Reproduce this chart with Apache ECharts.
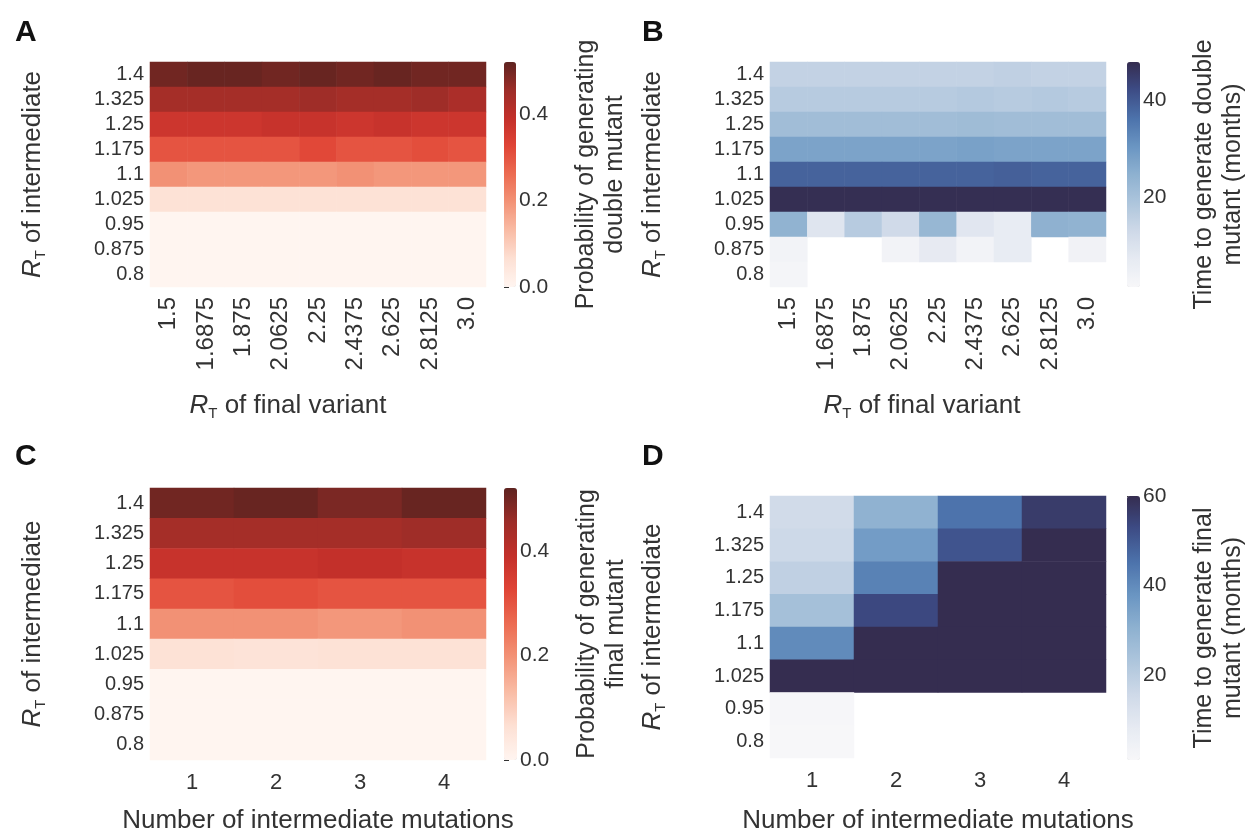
<!DOCTYPE html>
<html>
<head>
<meta charset="utf-8">
<script src="https://cdn.jsdelivr.net/npm/echarts@6/dist/echarts.min.js"></script>
<style>
html, body { margin: 0; background: #fff; }
#chart { width: 1257px; height: 835px; }
</style>
</head>
<body>
<div id="chart"></div>
<script>
// axis categories
var rtFinal = ['1.5', '1.6875', '1.875', '2.0625', '2.25', '2.4375', '2.625', '2.8125', '3.0'];
var rtInter = ['1.4', '1.325', '1.25', '1.175', '1.1', '1.025', '0.95', '0.875', '0.8'];
var rtInterD = ['1.4', '1.325', '1.25', '1.175', '1.1', '1.025', '0.95', '0.8'];
var nMutations = ['1', '2', '3', '4'];

// A: probability of generating double mutant (rows top -> bottom)
var probDouble = [
    [0.50, 0.51, 0.51, 0.50, 0.51, 0.50, 0.51, 0.50, 0.50],
    [0.44, 0.44, 0.44, 0.44, 0.45, 0.44, 0.44, 0.45, 0.43],
    [0.37, 0.37, 0.37, 0.38, 0.38, 0.37, 0.38, 0.37, 0.37],
    [0.30, 0.30, 0.30, 0.30, 0.32, 0.30, 0.30, 0.31, 0.30],
    [0.20, 0.19, 0.19, 0.19, 0.19, 0.20, 0.19, 0.19, 0.19],
    [0.06, 0.06, 0.06, 0.06, 0.06, 0.06, 0.06, 0.06, 0.06],
    [0, 0, 0, 0, 0, 0, 0, 0, 0],
    [0, 0, 0, 0, 0, 0, 0, 0, 0],
    [0, 0, 0, 0, 0, 0, 0, 0, 0]
];
// B: time to generate double mutant (months), null = no value
var timeDouble = [
    [15, 15, 15, 15, 15, 15, 15.5, 15, 15],
    [17, 17, 17, 17, 17, 17.5, 17, 17.5, 17],
    [21, 21, 21, 21, 21, 21.5, 21, 21, 21],
    [27.5, 27.5, 27.5, 27.5, 27.5, 28, 27.5, 27.5, 27.5],
    [38.5, 38.5, 38.5, 38.5, 38.5, 38.5, 39, 38.5, 38.5],
    [47.5, 47.5, 47.5, 47.5, 47.5, 47.5, 47.5, 47.5, 47.5],
    [24, 9, 17, 12.5, 23, 8.5, 6.5, 24.5, 24],
    [3, null, null, 3, 7, 3, 6.5, null, 3.5],
    [2.5, null, null, null, null, null, null, null, null]
];
// C: probability of generating final mutant
var probFinal = [
    [0.50, 0.51, 0.49, 0.51],
    [0.44, 0.44, 0.44, 0.45],
    [0.38, 0.38, 0.39, 0.38],
    [0.30, 0.31, 0.30, 0.30],
    [0.20, 0.20, 0.19, 0.20],
    [0.06, 0.055, 0.06, 0.06],
    [0, 0, 0, 0],
    [0, 0, 0, 0],
    [0, 0, 0, 0]
];
// D: time to generate final mutant (months)
var timeFinal = [
    [15, 30, 45, 56.5],
    [16, 36, 51, 60],
    [19, 42, 60, 60],
    [25, 53.5, 60, 60],
    [40, 60, 60, 60],
    [60, 60, 60, 60],
    [1.5, null, null, null],
    [1.2, null, null, null]
];

// colour bar ranges and ticks
var probRange = [0, 0.52];
var timeDoubleRange = [1.4, 47.8];
var timeFinalRange = [1.1, 60];
var probTicks = [0, 0.2, 0.4];
var timeDoubleTicks = [20, 40];
var timeFinalTicks = [20, 40, 60];

var reds = ['#fff5f0', '#fde0d4', '#f9bca5', '#f39478', '#ec6c52', '#e04536', '#c3302a', '#9c2d28', '#5e2320'];
var blues = ['#f7f7f9', '#e6eaf2', '#ced9e8', '#adc5dc', '#8eb1d0', '#6a95c2', '#4c72ab', '#3d4c86', '#352d50'];

var FONT = '"Liberation Sans", Arial, Helvetica, sans-serif';
var TXT = '#333';

function toCells(m) {
    var out = [];
    for (var r = 0; r < m.length; r++) {
        for (var c = 0; c < m[r].length; c++) {
            if (m[r][c] !== null) out.push([c, r, m[r][c]]);
        }
    }
    return out;
}

var rtRich = {
    r: { fontSize: 26, fontStyle: 'italic', color: TXT, lineHeight: 30, fontFamily: FONT },
    t: { fontSize: 15, color: TXT, lineHeight: 15, padding: [19, 0, 0, 0], verticalAlign: 'bottom', fontFamily: FONT },
    n: { fontSize: 26, color: TXT, lineHeight: 30, fontFamily: FONT }
};

var panels = [
    { grid: [150, 62, 336, 225], bar: [504, 12], x: rtFinal, y: rtInter, data: probDouble, range: probRange, ticks: probTicks,
      colors: reds, fmt: 1, xName: '{r|R}{t|T}{n| of final variant}', xGap: 104, xShift: 60, rotate: 90,
      barName: 'Probability of generating\ndouble mutant', barGap: 56 },
    { grid: [770, 62, 336, 225], bar: [1127, 13], x: rtFinal, y: rtInter, data: timeDouble, range: timeDoubleRange, ticks: timeDoubleTicks,
      colors: blues, fmt: 0, xName: '{r|R}{t|T}{n| of final variant}', xGap: 104, xShift: 32, rotate: 90,
      barName: 'Time to generate double\nmutant (months)', barGap: 50 },
    { grid: [150, 488, 336, 272], bar: [504, 13], x: nMutations, y: rtInter, data: probFinal, range: probRange, ticks: probTicks,
      colors: reds, fmt: 1, xName: '{n|Number of intermediate mutations}', xGap: 46, xShift: 0, rotate: 0,
      barName: 'Probability of generating\nfinal mutant', barGap: 56 },
    { grid: [770, 496, 336, 264], bar: [1127, 13], x: nMutations, y: rtInterD, data: timeFinal, range: timeFinalRange, ticks: timeFinalTicks,
      colors: blues, fmt: 0, xName: '{n|Number of intermediate mutations}', xGap: 48, xShift: 0, rotate: 0,
      barName: 'Time to generate final\nmutant (months)', barGap: 50 }
];

var grids = [], xAxes = [], yAxes = [], series = [], vms = [];
panels.forEach(function (p, i) {
    var g = p.grid;
    grids.push({ left: g[0], top: g[1], width: g[2], height: g[3] });
    grids.push({ left: p.bar[0], top: g[1], width: p.bar[1], height: g[3] });
    xAxes.push({
        gridIndex: 2 * i, type: 'category', data: p.x, position: 'bottom',
        axisLine: { show: false }, axisTick: { show: false }, splitLine: { show: false },
        axisLabel: p.rotate
            ? { interval: 0, rotate: 90, fontSize: 24, color: TXT, margin: 10 }
            : { interval: 0, fontSize: 22, color: TXT, margin: 12 },
        name: p.xName, nameLocation: 'middle', nameGap: p.xGap,
        nameTextStyle: { rich: rtRich, padding: [0, p.xShift, 0, 0] }
    });
    xAxes.push({ gridIndex: 2 * i + 1, type: 'value', show: false });
    yAxes.push({
        gridIndex: 2 * i, type: 'category', data: p.y, inverse: true,
        axisLine: { show: false }, axisTick: { show: false }, splitLine: { show: false },
        axisLabel: { interval: 0, fontSize: 20, color: TXT, margin: 6 },
        name: '{r|R}{t|T}{n| of intermediate}', nameLocation: 'middle', nameRotate: 90, nameGap: 102,
        nameTextStyle: { rich: rtRich }
    });
    yAxes.push({
        gridIndex: 2 * i + 1, type: 'value', position: 'right',
        min: p.range[0], max: p.range[1],
        axisLine: { show: false }, splitLine: { show: false },
        axisTick: { show: true, length: 5, customValues: p.ticks, lineStyle: { color: TXT } },
        axisLabel: {
            customValues: p.ticks, fontSize: 21, color: TXT, margin: 3,
            formatter: (function (f) { return function (v) { return v.toFixed(f); }; })(p.fmt)
        },
        name: p.barName, nameLocation: 'middle', nameRotate: 90, nameGap: p.barGap,
        nameTextStyle: { fontSize: 25, color: TXT, lineHeight: 29, fontFamily: FONT }
    });
    series.push({
        type: 'heatmap', xAxisIndex: 2 * i, yAxisIndex: 2 * i,
        data: toCells(p.data), itemStyle: { borderWidth: 0 }, emphasis: { disabled: true }
    });
    vms.push({
        type: 'continuous', seriesIndex: i, min: p.range[0], max: p.range[1],
        calculable: false, hoverLink: false, left: p.bar[0], top: g[1],
        itemWidth: p.bar[1], itemHeight: g[3], padding: 0, textGap: 0,
        inRange: { color: p.colors }
    });
});

var chart = echarts.init(document.getElementById('chart'));

var option = {
    animation: false,
    backgroundColor: '#fff',
    textStyle: { fontFamily: FONT },
    title: [
        { text: 'A', left: 10, top: 13 },
        { text: 'B', left: 637, top: 13 },
        { text: 'C', left: 10, top: 437 },
        { text: 'D', left: 637, top: 437 }
    ].map(function (t) {
        t.textStyle = { fontSize: 30, fontWeight: 'bold', color: '#111', fontFamily: FONT };
        return t;
    }),
    grid: grids,
    xAxis: xAxes,
    yAxis: yAxes,
    visualMap: vms,
    series: series
};

chart.setOption(option);
</script>
</body>
</html>
